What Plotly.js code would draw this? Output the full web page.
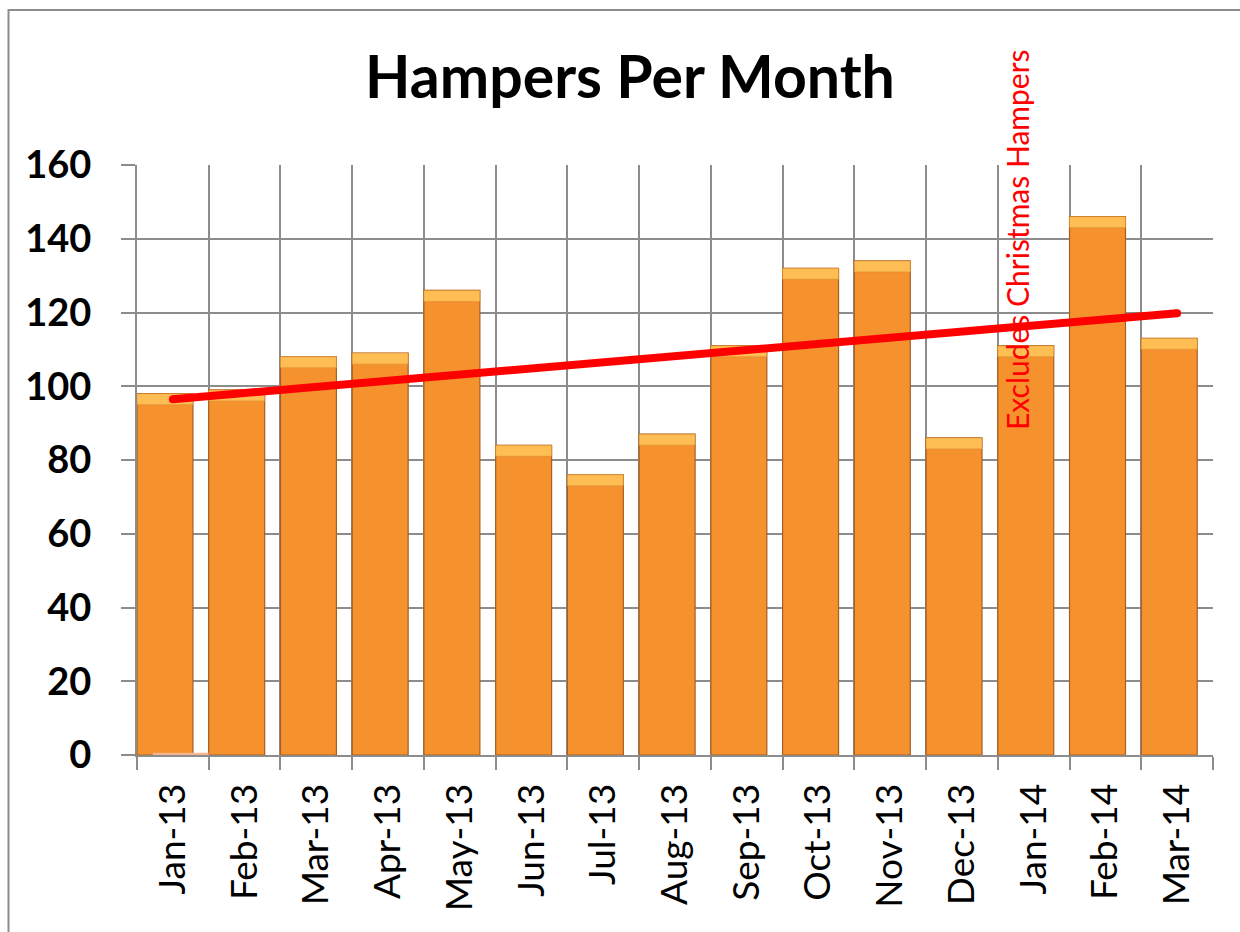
<!DOCTYPE html>
<html>
<head>
<meta charset="utf-8">
<script src="https://cdn.plot.ly/plotly-3.0.1.min.js"></script>
<style>
  html, body { margin: 0; padding: 0; background: #fff; }
  #chart { width: 1240px; height: 932px; }
</style>
</head>
<body>
<div id="chart"></div>
<script>
const months = ["Jan-13","Feb-13","Mar-13","Apr-13","May-13","Jun-13","Jul-13","Aug-13","Sep-13","Oct-13","Nov-13","Dec-13","Jan-14","Feb-14","Mar-14"];
const hampers = [98, 99, 108, 109, 126, 84, 76, 87, 111, 132, 134, 86, 111, 146, 113];
const secondSeries = [0.6, 0, 0, 0, 0, 0, 0, 0, 0, 0, 0, 0, 0, 0, 0];
const trendMonths = ["Jan-13", "Mar-14"];
const trendValues = [96.5, 119.8];
const yTicks = [0, 20, 40, 60, 80, 100, 120, 140, 160];
const noteText = "Excludes Christmas Hampers";

const bevel = 3;
const bevelBase = hampers.map(v => v - bevel);
const bevelHeight = hampers.map(() => bevel);

const traces = [
  {
    type: "bar", x: months, y: hampers, name: "Hampers",
    offset: -0.5, width: 0.78,
    marker: { color: "rgb(245,146,46)", line: { color: "rgb(168,94,32)", width: 1.2 } },
    hoverinfo: "x+y"
  },
  {
    type: "bar", x: months, y: bevelHeight, base: bevelBase, name: "top",
    offset: -0.5, width: 0.78,
    marker: { color: "rgb(254,190,84)", line: { color: "rgb(220,140,50)", width: 0.6 } },
    hoverinfo: "skip", showlegend: false
  },
  {
    type: "bar", x: months, y: secondSeries, name: "Other",
    offset: -0.28, width: 0.78,
    marker: { color: "rgb(248,180,140)" },
    hoverinfo: "skip"
  },
  {
    type: "scatter", mode: "lines+markers", x: trendMonths, y: trendValues,
    line: { color: "rgb(255,0,0)", width: 8 },
    marker: { color: "rgb(255,0,0)", size: 8 },
    hoverinfo: "skip"
  }
];

const layout = {
  width: 1240, height: 932,
  margin: { l: 137, r: 27, t: 165, b: 177 },
  paper_bgcolor: "#ffffff", plot_bgcolor: "#ffffff",
  showlegend: false,
  barmode: "overlay",
  font: { family: "Lato, 'Open Sans', sans-serif", color: "#000" },
  title: {
    text: "<b>Hampers Per Month</b>",
    font: { family: "Lato, sans-serif", size: 59, color: "#000" },
    x: 630 / 1240, xanchor: "center", xref: "container",
    y: 1 - 77 / 932, yanchor: "middle", yref: "container"
  },
  xaxis: {
    type: "category",
    categoryorder: "array", categoryarray: months,
    range: [-0.5, 14.5],
    tickson: "boundaries",
    ticks: "outside", ticklen: 13, tickwidth: 2, tickcolor: "#8c8c8c",
    showgrid: true, gridcolor: "#8c8c8c", gridwidth: 2,
    showline: true, linecolor: "#8c8c8c", linewidth: 2,
    tickangle: -90,
    tickfont: { family: "Lato, sans-serif", size: 37, color: "#000" },
    ticklabelstandoff: 12,
    fixedrange: true
  },
  yaxis: {
    range: [0, 160],
    tickvals: yTicks,
    ticktext: yTicks.map(String),
    ticks: "outside", ticklen: 14, tickwidth: 2, tickcolor: "#8c8c8c",
    showgrid: true, gridcolor: "#8c8c8c", gridwidth: 2,
    showline: true, linecolor: "#8c8c8c", linewidth: 2,
    zeroline: false,
    tickfont: { family: "Lato, sans-serif", size: 38, color: "#000", weight: "bold" },
    ticklabelstandoff: 22,
    fixedrange: true
  },
  annotations: [
    {
      text: noteText,
      xref: "paper", yref: "paper",
      x: (1017 - 137) / 1076, y: (755 - 240) / 590,
      xanchor: "center", yanchor: "middle",
      textangle: -90, showarrow: false,
      font: { family: "Lato, sans-serif", size: 30, color: "rgb(255,0,0)" }
    }
  ],
  shapes: [
    {
      type: "rect", xref: "paper", yref: "paper",
      x0: (8.5 - 137) / 1076, x1: (1260 - 137) / 1076,
      y0: (755 - 950) / 590, y1: (755 - 10) / 590,
      line: { color: "#8c8c8c", width: 2 }, fillcolor: "rgba(0,0,0,0)",
      layer: "below"
    }
  ]
};

Plotly.newPlot("chart", traces, layout, { displayModeBar: false, staticPlot: true });
</script>
</body>
</html>
